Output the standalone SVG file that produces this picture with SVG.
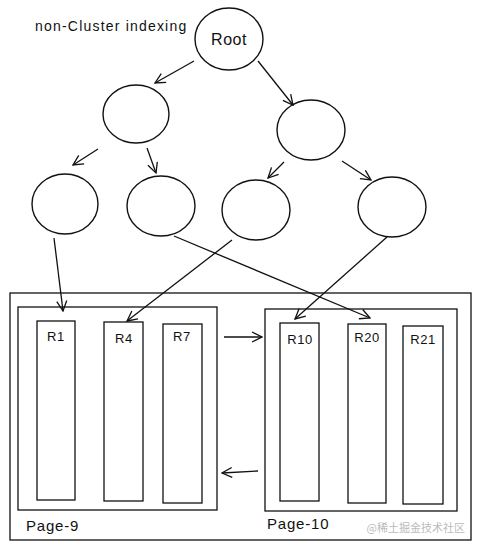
<svg xmlns="http://www.w3.org/2000/svg" width="480" height="550" viewBox="0 0 480 550">
<style>
.n{fill:none;stroke:#111;stroke-width:1.4}
.b{fill:none;stroke:#111;stroke-width:1.3}
.c{fill:none;stroke:#111;stroke-width:1.3;marker-end:url(#ah)}
.t{font-family:"Liberation Sans","DejaVu Sans",sans-serif;fill:#111}
.r{font-size:13px;letter-spacing:0.6px;text-anchor:middle}
.p{font-size:15px;letter-spacing:0.8px}
</style>
<defs>
<marker id="ah" viewBox="0 0 12 12" refX="11" refY="6" markerWidth="12" markerHeight="12" markerUnits="userSpaceOnUse" orient="auto">
<path d="M1,1 L11,6 L1,11" fill="none" stroke="#111" stroke-width="1.3"/>
</marker>
</defs>
<rect width="480" height="550" fill="#fff"/>
<text class="t" x="35" y="31" font-size="14" letter-spacing="1.2">non-Cluster indexing</text>
<g id="root"><ellipse class="n" cx="229" cy="39" rx="34" ry="31"/><text class="t" x="229" y="45" font-size="16" letter-spacing="0.5" text-anchor="middle">Root</text></g>
<g id="l2a"><ellipse class="n" cx="136" cy="114" rx="33" ry="29"/></g>
<g id="l2b"><ellipse class="n" cx="311" cy="130" rx="34" ry="30"/></g>
<g id="l3a"><ellipse class="n" cx="65" cy="204" rx="33" ry="30"/></g>
<g id="l3b"><ellipse class="n" cx="161" cy="206" rx="34" ry="30"/></g>
<g id="l3c"><ellipse class="n" cx="256" cy="210" rx="34" ry="30"/></g>
<g id="l3d"><ellipse class="n" cx="392" cy="207" rx="34" ry="30"/></g>
<g id="outer"><rect class="b" x="10" y="293" width="461" height="247"/></g>
<g id="page9"><rect class="b" x="18" y="307" width="199" height="203"/><text class="t p" x="26" y="531">Page-9</text></g>
<g id="page10"><rect class="b" x="265" y="309" width="192" height="202"/><text class="t p" x="267" y="529">Page-10</text></g>
<g id="r1"><rect class="b" x="37" y="321" width="38" height="179"/><text class="t r" x="56" y="341">R1</text></g>
<g id="r4"><rect class="b" x="104" y="322" width="39" height="179"/><text class="t r" x="124" y="343">R4</text></g>
<g id="r7"><rect class="b" x="163" y="324" width="39" height="179"/><text class="t r" x="182" y="341">R7</text></g>
<g id="r10"><rect class="b" x="280" y="323" width="39" height="178"/><text class="t r" x="300" y="344">R10</text></g>
<g id="r20"><rect class="b" x="348" y="324" width="38" height="179"/><text class="t r" x="367" y="342">R20</text></g>
<g id="r21"><rect class="b" x="403" y="326" width="40" height="178"/><text class="t r" x="423" y="344">R21</text></g>
<g id="connectors">
<line class="c" x1="194" y1="61" x2="155" y2="83"/>
<line class="c" x1="258" y1="61" x2="293" y2="105"/>
<line class="c" x1="98" y1="149" x2="73" y2="165"/>
<line class="c" x1="147" y1="148" x2="156" y2="173"/>
<line class="c" x1="284" y1="162" x2="268" y2="178"/>
<line class="c" x1="342" y1="161" x2="371" y2="180"/>
<line class="c" x1="54" y1="238" x2="63" y2="311"/>
<line class="c" x1="174" y1="236" x2="370" y2="318"/>
<line class="c" x1="232" y1="240" x2="127" y2="321"/>
<line class="c" x1="387" y1="237" x2="295" y2="319"/>
<line class="c" x1="224" y1="337" x2="262" y2="337"/>
<line class="c" x1="258" y1="471" x2="222" y2="473"/>
</g>
<text x="465" y="532" font-size="11" fill="#bbb" text-anchor="end" font-family="'Noto Sans CJK SC',sans-serif">@稀土掘金技术社区</text>
</svg>
